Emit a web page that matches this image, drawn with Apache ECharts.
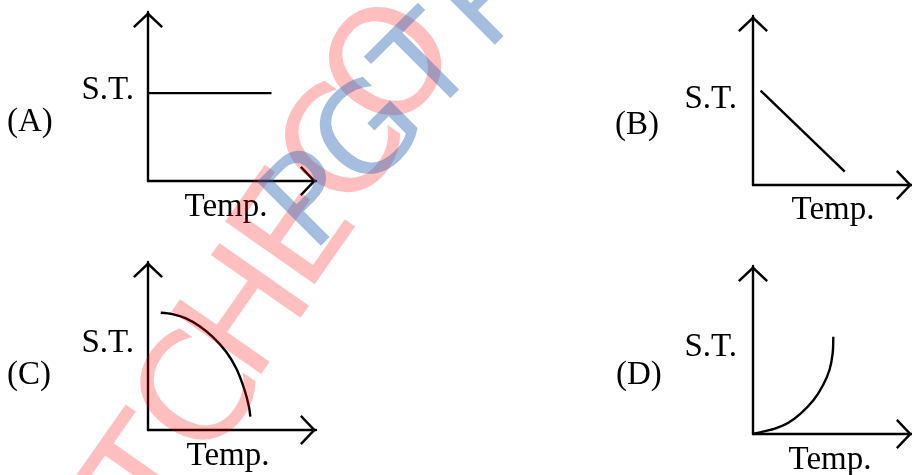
<!DOCTYPE html>
<html>
<head>
<meta charset="utf-8">
<script src="https://cdn.jsdelivr.net/npm/echarts@6/dist/echarts.min.js"></script>
<style>
html,body{margin:0;padding:0;background:#fff;}
#chart{width:912px;height:475px;}
</style>
</head>
<body>
<div id="chart"></div>
<script>
// ---- data ----
const panelLabels = ['(A)', '(B)', '(C)', '(D)'];
const yAxisName = 'S.T.';
const xAxisName = 'Temp.';
// values on a 0..100 scale for both axes
const seriesA = [[0, 52], [73.5, 52]];
const seriesB = [[4.8, 55.8], [57.7, 7.9]];
const seriesC = [[7.6, 69.8], [14.6, 69.0], [22.6, 66.5], [30.5, 61.9], [38.5, 55.5],
                 [46.5, 46.6], [52.5, 36.7], [57.5, 23.8], [60.1, 13.9], [60.9, 7.9]];
const seriesD = [[0, 0], [6.2, 1.4], [14.2, 3.4], [22.2, 6.7], [30.1, 12.3], [38.1, 20.2],
                 [44.1, 29.2], [48.1, 38.1], [50.1, 48.0], [50.5, 57.9]];
const watermarkPink = ['L', 'T', 'C', 'H', 'E', 'C', 'O'];
const watermarkBlue = ['P', 'G', 'T', 'P'];

// ---- layout ----
const grids = [
  {left: 148, top: 12, width: 168, height: 169},
  {left: 753, top: 16, width: 167, height: 169},
  {left: 148, top: 262, width: 168, height: 168},
  {left: 753, top: 266, width: 167, height: 168}
];
const LW = 2.4;
const chevron = 'path://M15,0 L30,14.3 L28.3,16 L15,3.4 L1.7,16 L0,14.3 Z';
function axis(idx) {
  return {
    type: 'value', min: 0, max: 100, gridIndex: idx,
    axisLine: {show: true, onZero: false,
      lineStyle: {color: '#000', width: LW},
      symbol: ['none', chevron], symbolSize: [30, 16], symbolOffset: [0, -8]},
    axisTick: {show: false}, axisLabel: {show: false}, splitLine: {show: false}
  };
}
const allData = [seriesA, seriesB, seriesC, seriesD];
const series = allData.map((d, i) => ({
  type: 'line', xAxisIndex: i, yAxisIndex: i, data: d,
  showSymbol: false, smooth: i >= 2 ? 0.3 : false,
  lineStyle: {color: '#000', width: LW}, silent: true, z: 3
}));

const serif = '"Liberation Serif", "Times New Roman", serif';
function txt(t, x, y, align) {
  return {type: 'text', x: x, y: y, z: 5,
    style: {text: t, font: '33px ' + serif, fill: '#000', align: align, verticalAlign: 'middle'}};
}
const stPos = [[134, 90], [737, 99], [134, 343], [737, 347]];
const lblPos = [[7, 122], [615, 125], [7, 375], [616, 375]];
const tmpPos = [[226, 207], [833, 210], [228, 456], [830, 460]];
const graphics = [];
for (let i = 0; i < 4; i++) {
  graphics.push(txt(yAxisName, stPos[i][0], stPos[i][1], 'right'));
  graphics.push(txt(panelLabels[i], lblPos[i][0], lblPos[i][1], 'left'));
  graphics.push(txt(xAxisName, tmpPos[i][0], tmpPos[i][1], 'center'));
}
// watermark letters laid along a diagonal
function watermark(letters, x0, y0, dx, dy, rot, size, color, z) {
  letters.forEach((ch, k) => {
    graphics.push({type: 'text', x: x0 + k * dx, y: y0 + k * dy, rotation: rot * Math.PI / 180,
      z: z, silent: true,
      style: {text: ch, font: size + 'px "DejaVu Sans"', fill: color, align: 'center', verticalAlign: 'middle'}});
  });
}
watermark(watermarkPink, 108.5, 565, 48.25, -82.5, 55, 150, 'rgba(255,0,0,0.25)', 20);
watermark(watermarkBlue, 316, 205, 58, -67, 45, 124, 'rgba(40,100,180,0.42)', 21);

const chart = echarts.init(document.getElementById('chart'), null, {renderer: 'canvas'});
chart.setOption({
  animation: false,
  backgroundColor: '#fff',
  grid: grids,
  xAxis: [0, 1, 2, 3].map(axis),
  yAxis: [0, 1, 2, 3].map(axis),
  series: series,
  graphic: graphics
});
</script>
</body>
</html>
